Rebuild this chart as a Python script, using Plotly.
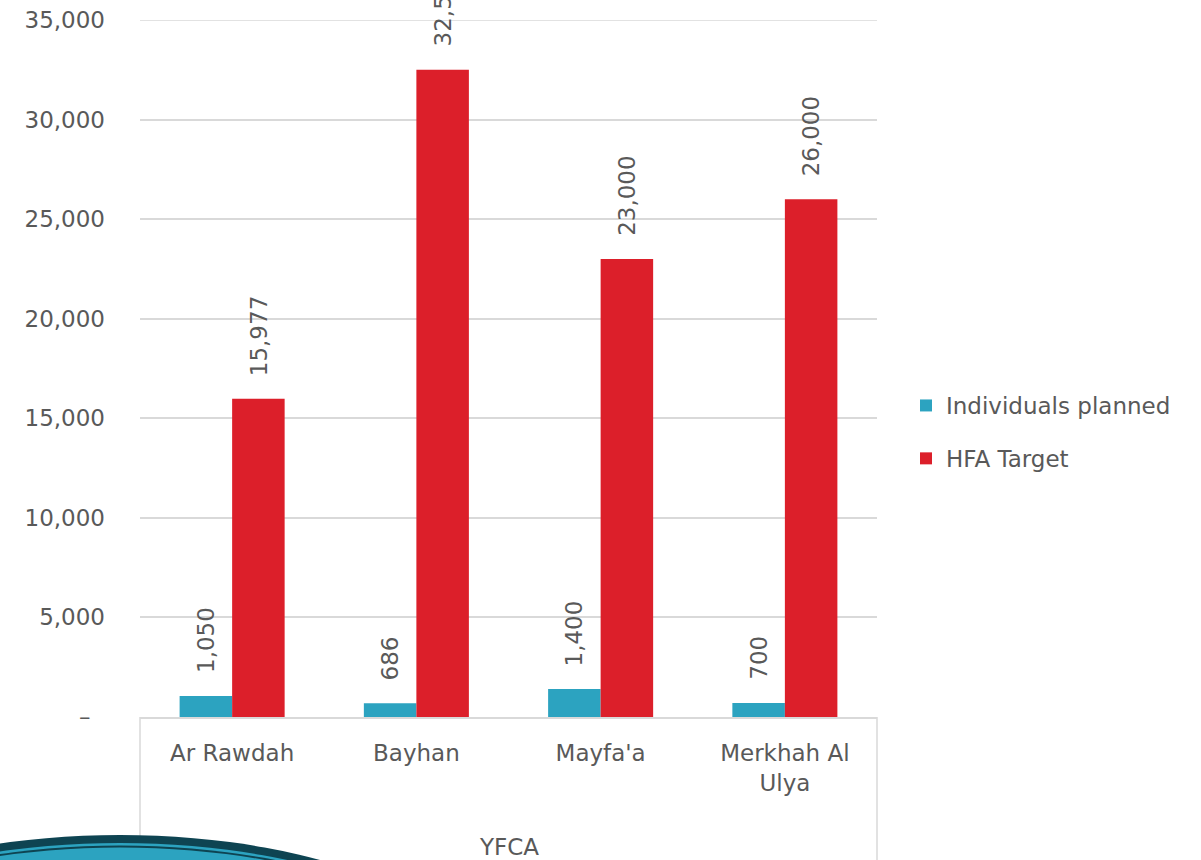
import plotly.graph_objects as go

categories = ["Ar Rawdah", "Bayhan", "Mayfa'a", "Merkhah Al Ulya"]
category_labels = ["Ar Rawdah", "Bayhan", "Mayfa'a", "Merkhah Al<br>Ulya"]
individuals_planned = [1050, 686, 1400, 700]
hfa_target = [15977, 32500, 23000, 26000]
series_names = ["Individuals planned", "HFA Target"]
y_tickvals = [0, 5000, 10000, 15000, 20000, 25000, 30000, 35000]
y_ticktext = ["–\u00a0\u00a0", "5,000", "10,000", "15,000", "20,000", "25,000", "30,000", "35,000"]
group_title = "YFCA"

BLUE = "#2CA3C0"
RED = "#DC1F2A"
DARK = "#0E4452"
GREY_TXT = "#595959"
GRID = "#D9D9D9"
FONT = "DejaVu Sans"
FS = 23

W, H = 1201, 860
ML, MR, MT, MB = 140, 324, 20, 143
PW, PH = W - ML - MR, H - MT - MB
BARGAP = 0.43
Y_MAX = y_tickvals[-1]


def px_x(px):  # page pixel -> paper
    return (px - ML) / PW


def px_y(py):
    return (H - MB - py) / PH


fig = go.Figure()
fig.add_trace(go.Bar(name=series_names[0], x=categories, y=individuals_planned,
                     marker=dict(color=BLUE, line=dict(width=0)), legendgroup="a"))
fig.add_trace(go.Bar(name=series_names[1], x=categories, y=hfa_target,
                     marker=dict(color=RED, line=dict(width=0)), legendgroup="b"))

# value labels (rotated) above each bar
cat_w = PW / len(categories)
bar_w = cat_w * (1 - BARGAP) / 2
annotations = []
for si, vals in enumerate([individuals_planned, hfa_target]):
    shift = (-0.5 if si == 0 else 0.5) * bar_w
    for c, v in zip(categories, vals):
        annotations.append(dict(x=c, y=v, xref="x", yref="y", text=f"{v:,}",
                                showarrow=False, textangle=-90, xshift=shift,
                                yshift=21, yanchor="bottom", xanchor="center",
                                font=dict(family=FONT, size=FS, color=GREY_TXT)))

# group (outer category) label
annotations.append(dict(x=0.5, y=px_y(847), xref="paper", yref="paper", text=group_title,
                        showarrow=False, xanchor="center", yanchor="middle",
                        font=dict(family=FONT, size=FS, color=GREY_TXT)))

shapes = []
# top grid line (plotly skips the grid line sitting on the range edge)
shapes.append(dict(type="line", xref="paper", yref="y", x0=0, x1=1,
                   y0=y_tickvals[-1], y1=y_tickvals[-1],
                   line=dict(color=GRID, width=1.5), layer="below"))
# category box lines
for xx in [0, 1]:
    shapes.append(dict(type="line", xref="paper", yref="paper", x0=xx, x1=xx,
                       y0=0, y1=px_y(870), line=dict(color=GRID, width=1.5), layer="above"))


def ell(cx, cy, rx, ry, color):
    return dict(type="circle", xref="paper", yref="paper",
                x0=px_x(cx - rx), x1=px_x(cx + rx), y0=px_y(cy + ry), y1=px_y(cy - ry),
                fillcolor=color, line=dict(width=0), layer="above")


cx, cy, rx, ry = 120, 1000, 378, 165
shapes.append(ell(cx, cy, rx, ry, DARK))
shapes.append(ell(cx, cy, rx - 8, ry - 8, BLUE))
shapes.append(ell(cx, cy, rx - 10.5, ry - 10.5, DARK))
shapes.append(ell(cx, cy, rx - 12.5, ry - 12.5, BLUE))

fig.update_layout(
    width=W, height=H,
    margin=dict(l=ML, r=MR, t=MT, b=MB, pad=0, autoexpand=False),
    paper_bgcolor="white", plot_bgcolor="white",
    barmode="group", bargap=BARGAP, bargroupgap=0,
    font=dict(family=FONT, size=FS, color=GREY_TXT),
    showlegend=True,
    legend=dict(x=px_x(906), y=px_y(432), xanchor="left", yanchor="middle",
                font=dict(family=FONT, size=FS, color=GREY_TXT),
                tracegroupgap=20, bgcolor="rgba(0,0,0,0)"),
    xaxis=dict(tickmode="array", tickvals=categories, ticktext=category_labels,
               showgrid=False, showline=True, linecolor=GRID, linewidth=1.5,
               ticks="", ticklabelstandoff=15, automargin=False,
               tickfont=dict(family=FONT, size=FS, color=GREY_TXT)),
    yaxis=dict(range=[0, Y_MAX], tickmode="array", tickvals=y_tickvals, ticktext=y_ticktext,
               showgrid=True, gridcolor=GRID, gridwidth=1.5, zeroline=False,
               showline=False, ticks="", ticklabelstandoff=34, ticklabeloverflow="allow",
               automargin=False,
               tickfont=dict(family=FONT, size=FS, color=GREY_TXT)),
    annotations=annotations,
    shapes=shapes,
)

fig.write_html("out.html", post_script="document.body.style.margin='0';",
               config={"displayModeBar": False})
